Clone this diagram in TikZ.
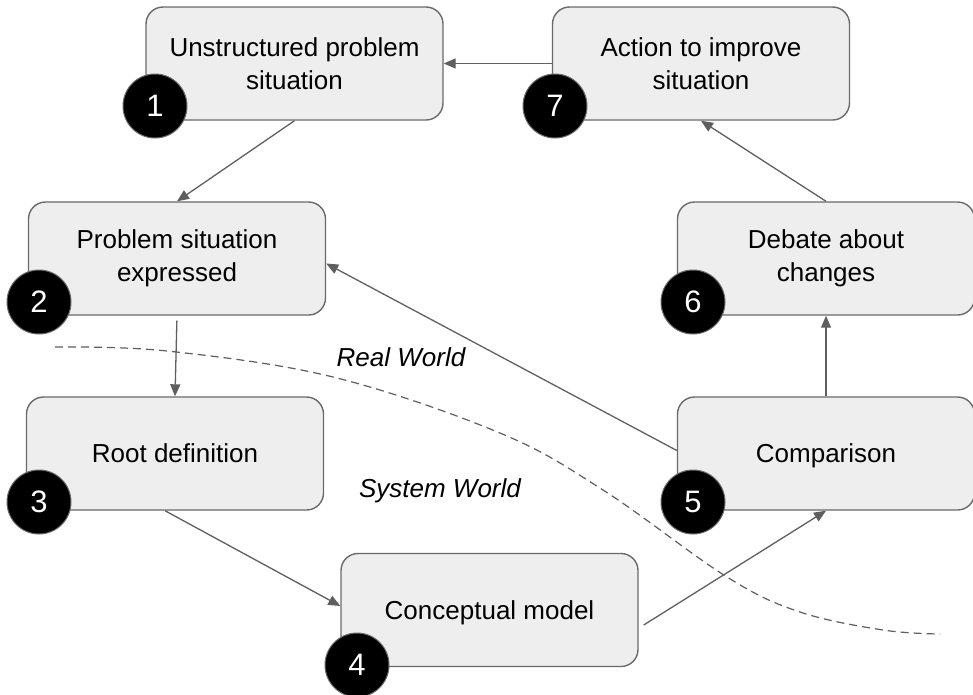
\documentclass[tikz,border=0pt]{standalone}
\usepackage{fontspec}
\setmainfont{Liberation Sans}
\usetikzlibrary{arrows.meta,calc}
\definecolor{boxfill}{HTML}{EEEEEE}
\definecolor{boxdraw}{HTML}{6A6A6A}
\definecolor{linecol}{HTML}{5F5F5F}
\tikzset{
  stage/.style={draw=boxdraw, line width=1.4pt, fill=boxfill, rounded corners=17pt,
    minimum width=297pt, minimum height=113pt, inner sep=0pt, align=center,
    font=\fontsize{26}{33}\selectfont},
  oneline/.style={text depth=0pt},
  badge/.style={circle, fill=black, draw=boxdraw, line width=1pt, minimum size=64pt, inner sep=0pt,
    text=white, font=\fontsize{31}{31}\selectfont},
  flow/.style={draw=linecol, line width=1.3pt, -{Triangle[length=12pt,width=10pt]}},
  world/.style={font=\fontsize{26}{26}\selectfont\itshape}
}
\begin{document}
\begin{tikzpicture}[x=1pt,y=-1pt]
\useasboundingbox (0,0) rectangle (973,694);
\fill[white] (0,0) rectangle (973,694);

% dashed boundary
\draw[linecol, line width=1.2pt, dash pattern=on 8pt off 5pt]
  plot[smooth, tension=0.6] coordinates {(55,347) (167,351) (333,377) (500,433) (603,490) (727,577) (800,612) (883,630) (940,634)};

\node[world] (rw) at (401,357) {Real World};
\node[world] (sw) at (440,491) {System World};

% boxes
\node[stage] (b1) at (294.5,63.5) {Unstructured problem\\situation};
\node[stage] (b7) at (701,63.5) {Action to improve\\situation};
\node[stage] (b2) at (177,258.5) {Problem situation\\expressed};
\node[stage] (b6) at (826,258.5) {Debate about\\changes};
\node[stage, oneline] (b3) at (175,453.5) {Root definition};
\node[stage, oneline] (b5) at (826,453.5) {Comparison};
\node[stage, oneline] (b4) at (489.5,610) {Conceptual model};

% connectors
\draw[flow] (b7.west) -- (b1.east);
\draw[flow] (b1.south) -- (b2.north);
\draw[flow, shorten <=5pt] (b2.south) -- (b3.north);
\draw[flow] ($(b3.south)+(-10,0)$) -- ($(b4.west)+(0,-4)$);
\draw[flow] ($(b4.east)+(5,15)$) -- (b5.south);
\draw[flow] (b5.north) -- (b6.south);
\draw[flow] (b6.north) -- (b7.south);
\draw[flow] ($(b5.west)+(0,-3)$) -- ($(b2.east)+(0,5)$);

% badges
\node[badge] (c1) at (155,106) {1};
\node[badge] (c7) at (555,106) {7};
\node[badge] (c2) at (39,302) {2};
\node[badge] (c6) at (693,302) {6};
\node[badge] (c3) at (39,502) {3};
\node[badge] (c5) at (693,502) {5};
\node[badge] (c4) at (357,665) {4};
\end{tikzpicture}
\end{document}
